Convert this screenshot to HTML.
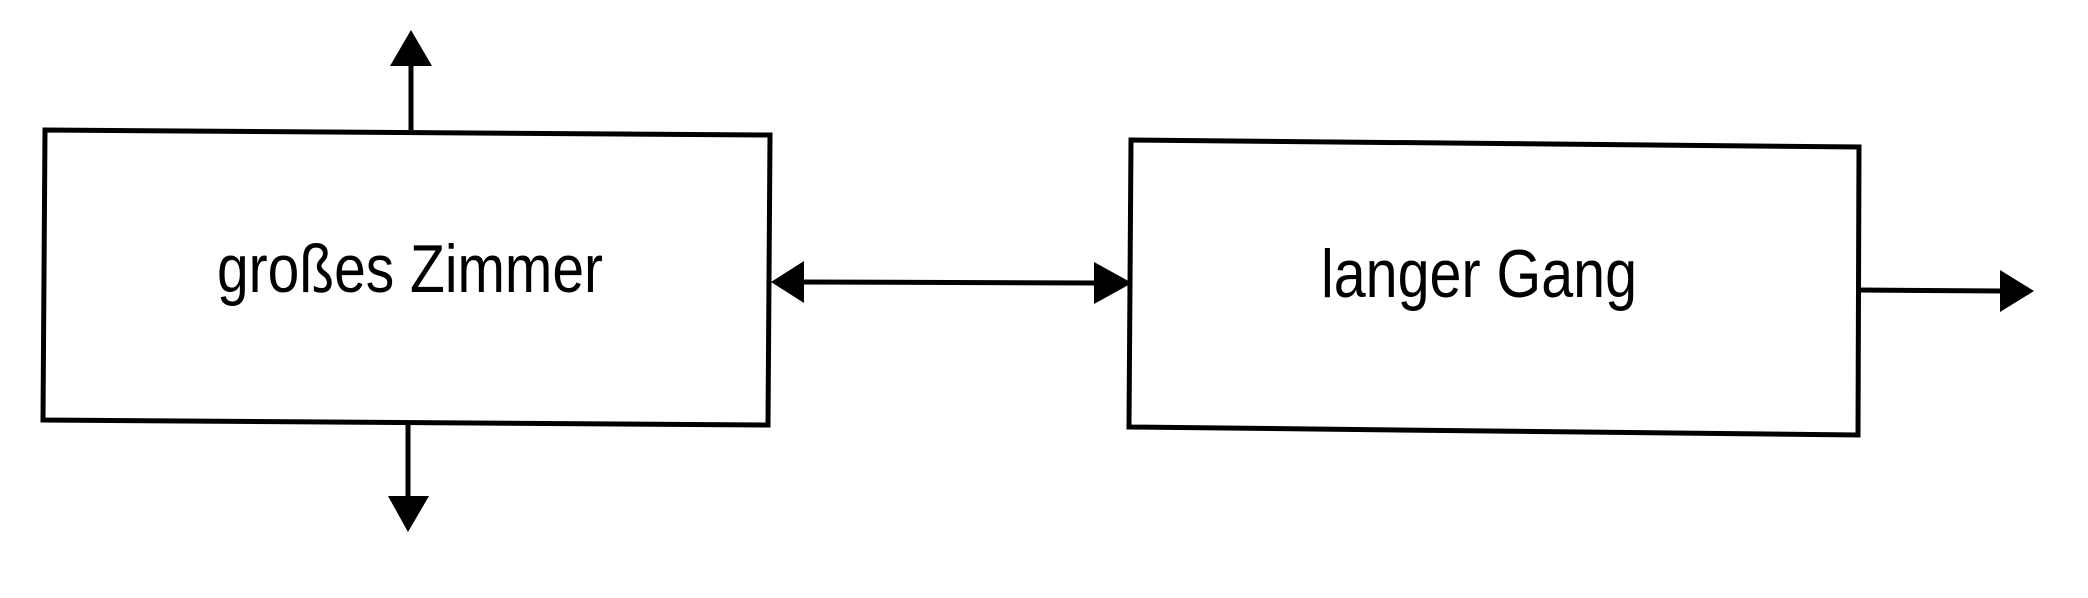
<!DOCTYPE html>
<html><head><meta charset="utf-8"><style>
html,body{margin:0;padding:0;background:#fff;}
svg{display:block;}
text{font-family:"Liberation Sans",Arial,sans-serif;fill:#000;}
</style></head><body>
<svg width="2088" height="598" viewBox="0 0 2088 598" xmlns="http://www.w3.org/2000/svg">
<g stroke="#000" stroke-width="5" fill="none">
<polygon points="45,130 770,135 768,425 43,420"/>
<polygon points="1131,140 1859,147 1858,435 1129,427"/>
<line x1="411" y1="130" x2="411" y2="62"/>
<line x1="408" y1="425" x2="408" y2="498"/>
<line x1="800" y1="282" x2="1096" y2="283"/>
<line x1="1859" y1="290" x2="2002" y2="291"/>
</g>
<g fill="#000">
<polygon points="411,30 390,66 432,66"/>
<polygon points="408,532 388,496 429,496"/>
<polygon points="771,282 804,261 804,303"/>
<polygon points="1132,283 1094,262 1094,304"/>
<polygon points="2034,291 2000,270 2000,312"/>
</g>
<text x="217" y="292" font-size="68" textLength="386" lengthAdjust="spacingAndGlyphs">großes Zimmer</text>
<text x="1321" y="297" font-size="68" textLength="316" lengthAdjust="spacingAndGlyphs">langer Gang</text>
</svg>
</body></html>
